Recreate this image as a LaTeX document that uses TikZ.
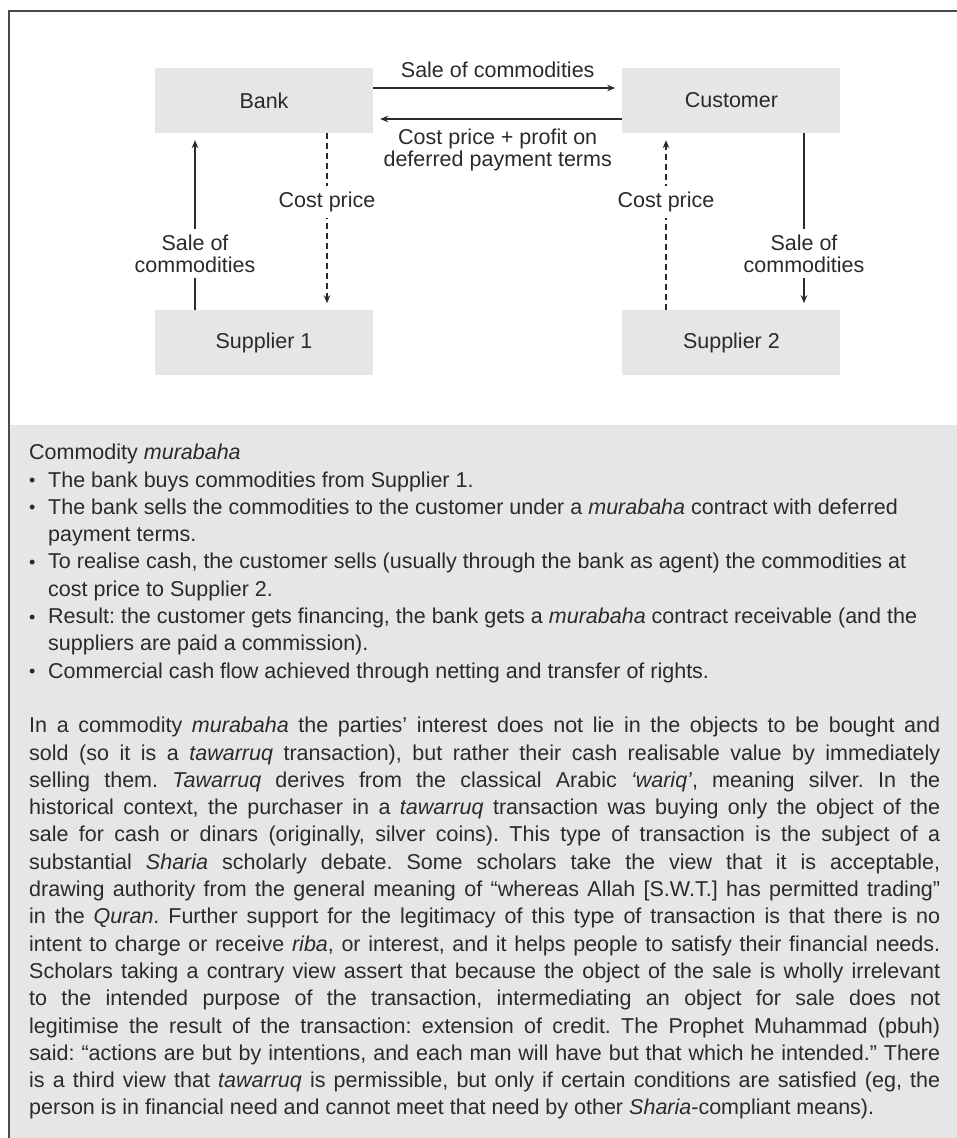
\documentclass[tikz,border=0pt]{standalone}
\usepackage{fontspec}
\setmainfont{Liberation Sans}
\usetikzlibrary{arrows.meta,positioning}

\definecolor{boxgray}{HTML}{E6E6E6}
\definecolor{ink}{HTML}{2A2A2A}
\definecolor{framegray}{HTML}{4A4A4A}

\newcommand{\bulletpar}[1]{\par\hangindent=19pt\hangafter=1\noindent\makebox[19pt][l]{\raisebox{0.5pt}{\fontsize{18}{18}\selectfont\textbullet}}#1}

\begin{document}
\begin{tikzpicture}[
  x=1pt, y=-1pt,
  font=\fontsize{21.5}{22}\selectfont,
  every node/.style={text=ink},
  box/.style={fill=boxgray, minimum width=218pt, minimum height=65pt, inner sep=0pt},
  flow/.style={-{Stealth[length=8pt,width=6.5pt]}, line width=1.4pt, draw=ink, shorten >=7pt},
  cash/.style={flow, dash pattern=on 6pt off 4pt},
  lbl/.style={fill=white, align=center, inner sep=6pt}
]
\useasboundingbox (0,0) rectangle (957,1138);
\clip (0,0) rectangle (957,1138);
% panel and frame
\fill[boxgray] (9,425) rectangle (970,1150);
\draw[framegray, line width=2pt] (9,11) rectangle (970,1150);

\node[box] (bank) at (264,100.5) {Bank};
\node[box, right=249pt of bank] (customer) {Customer};
\node[box, below=177pt of bank] (sup1) {Supplier 1};
\node[box, below=177pt of customer] (sup2) {Supplier 2};

% columns of the vertical arrows
\coordinate (c1) at (195,0);
\coordinate (c2) at (327,0);
\coordinate (c3) at (666,0);
\coordinate (c4) at (804,0);

\draw[flow] ([yshift=12.5pt]bank.east) -- node[above=6pt] {Sale of commodities} ([yshift=12.5pt]customer.west);
\draw[flow] ([yshift=-18.5pt]customer.west) -- node[below=6pt, align=center] {Cost price + profit on\\deferred payment terms} ([yshift=-18.5pt]bank.east);
\draw[flow] (sup1.north -| c1) -- node[lbl, pos=0.32] {Sale of\\commodities} (bank.south -| c1);
\draw[cash] (bank.south -| c2) -- node[lbl, pos=0.39] {Cost price} (sup1.north -| c2);
\draw[cash] (sup2.north -| c3) -- node[lbl, pos=0.61] {Cost price} (customer.south -| c3);
\draw[flow] (customer.south -| c4) -- node[lbl, pos=0.68] {Sale of\\commodities} (sup2.north -| c4);

% notes
\node[anchor=north west, text width=911pt, align=justify, inner sep=0pt,
  font=\fontsize{21.5}{27.3}\selectfont\frenchspacing] (notes) at (29,444) {%
Commodity \emph{murabaha}
\bulletpar{The bank buys commodities from Supplier 1.}
\bulletpar{The bank sells the commodities to the customer under a \emph{murabaha} contract with deferred\\payment terms.}
\bulletpar{To realise cash, the customer sells (usually through the bank as agent) the commodities at\\cost price to Supplier 2.}
\bulletpar{Result: the customer gets financing, the bank gets a \emph{murabaha} contract receivable (and the\\suppliers are paid a commission).}
\bulletpar{Commercial cash flow achieved through netting and transfer of rights.}
\par\vspace{27.3pt}
\noindent In a commodity \emph{murabaha} the parties' interest does not lie in the objects to be bought and\linebreak
sold (so it is a \emph{tawarruq} transaction), but rather their cash realisable value by immediately\linebreak
selling them. \emph{Tawarruq} derives from the classical Arabic \emph{‘wariq’}, meaning silver. In the\linebreak
historical context, the purchaser in a \emph{tawarruq} transaction was buying only the object of the\linebreak
sale for cash or dinars (originally, silver coins). This type of transaction is the subject of a\linebreak
substantial \emph{Sharia} scholarly debate. Some scholars take the view that it is acceptable,\linebreak
drawing authority from the general meaning of “whereas Allah [S.W.T.] has permitted trading”\linebreak
in the \emph{Quran}. Further support for the legitimacy of this type of transaction is that there is no\linebreak
intent to charge or receive \emph{riba}, or interest, and it helps people to satisfy their financial needs.\linebreak
Scholars taking a contrary view assert that because the object of the sale is wholly irrelevant\linebreak
to the intended purpose of the transaction, intermediating an object for sale does not\linebreak
legitimise the result of the transaction: extension of credit. The Prophet Muhammad (pbuh)\linebreak
said: “actions are but by intentions, and each man will have but that which he intended.” There\linebreak
is a third view that \emph{tawarruq} is permissible, but only if certain conditions are satisfied (eg, the\linebreak
person is in financial need and cannot meet that need by other \emph{Sharia}-compliant means).\par};
\end{tikzpicture}
\end{document}
